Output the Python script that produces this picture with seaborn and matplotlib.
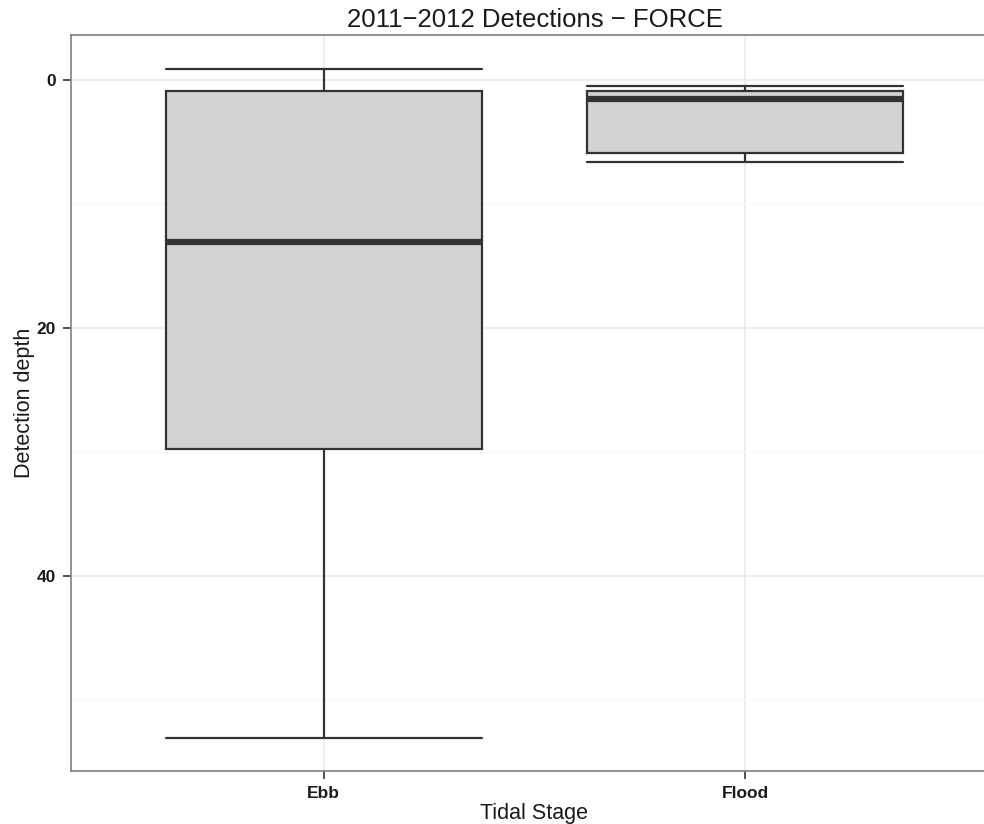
import matplotlib
matplotlib.use("Agg")
import matplotlib.pyplot as plt
import seaborn as sns
import pandas as pd
from matplotlib.ticker import MultipleLocator

# Five-number summaries of detection depth per tidal stage
# (whisker low, lower quartile, median, upper quartile, whisker high)
stages = ["Ebb", "Flood"]
ebb_depth = [-0.85, 0.9, 13.1, 29.8, 53.05]
flood_depth = [0.48, 0.9, 1.53, 5.9, 6.64]

df = pd.DataFrame({
    "Tidal Stage": ["Ebb"] * len(ebb_depth) + ["Flood"] * len(flood_depth),
    "Detection depth": ebb_depth + flood_depth,
})

sns.set_theme(style="white")
plt.rcParams["font.family"] = ["Liberation Sans", "DejaVu Sans"]

fig = plt.figure(figsize=(9.84, 8.24), dpi=100)
ax = fig.add_axes([71 / 984, (824 - 771) / 824, (998 - 71) / 984, (771 - 35) / 824])

edge = "#333333"
sns.boxplot(
    data=df, x="Tidal Stage", y="Detection depth", order=stages,
    whis=(0, 100), width=0.75, color="#D3D3D3", saturation=1,
    linecolor=edge, linewidth=1.6, showfliers=False, ax=ax,
    medianprops=dict(color=edge, linewidth=4.5),
    whiskerprops=dict(color=edge, linewidth=1.6),
    capprops=dict(color=edge, linewidth=1.6),
    capwidths=0.75,
)

ax.set_xlim(-0.6, 1.6)
ax.set_ylim(55.75, -3.6)
ax.yaxis.set_major_locator(MultipleLocator(20))
ax.yaxis.set_minor_locator(MultipleLocator(10))
ax.set_axisbelow(True)
ax.grid(True, which="major", color="#EBEBEB", linewidth=1.2)
ax.grid(True, which="minor", axis="y", color="#F6F6F6", linewidth=0.9)

for sp in ax.spines.values():
    sp.set_color("#7F7F7F")
    sp.set_linewidth(1.2)

ax.tick_params(axis="both", which="major", length=6, width=1.2, color=edge,
               labelsize=12.5, labelcolor="#1A1A1A", pad=5, left=True, bottom=True)
ax.tick_params(axis="y", which="minor", length=0)
for lab in ax.get_xticklabels() + ax.get_yticklabels():
    lab.set_fontweight("bold")

ax.set_xlabel("Tidal Stage", fontsize=15.5, color="#1A1A1A", labelpad=1)
ax.set_ylabel("Detection depth", fontsize=15.5, color="#1A1A1A", labelpad=1)
ax.set_title("2011\u22122012 Detections \u2212 FORCE", fontsize=18.5, color="#1A1A1A", pad=6)

fig.savefig("out.png", dpi=100)
